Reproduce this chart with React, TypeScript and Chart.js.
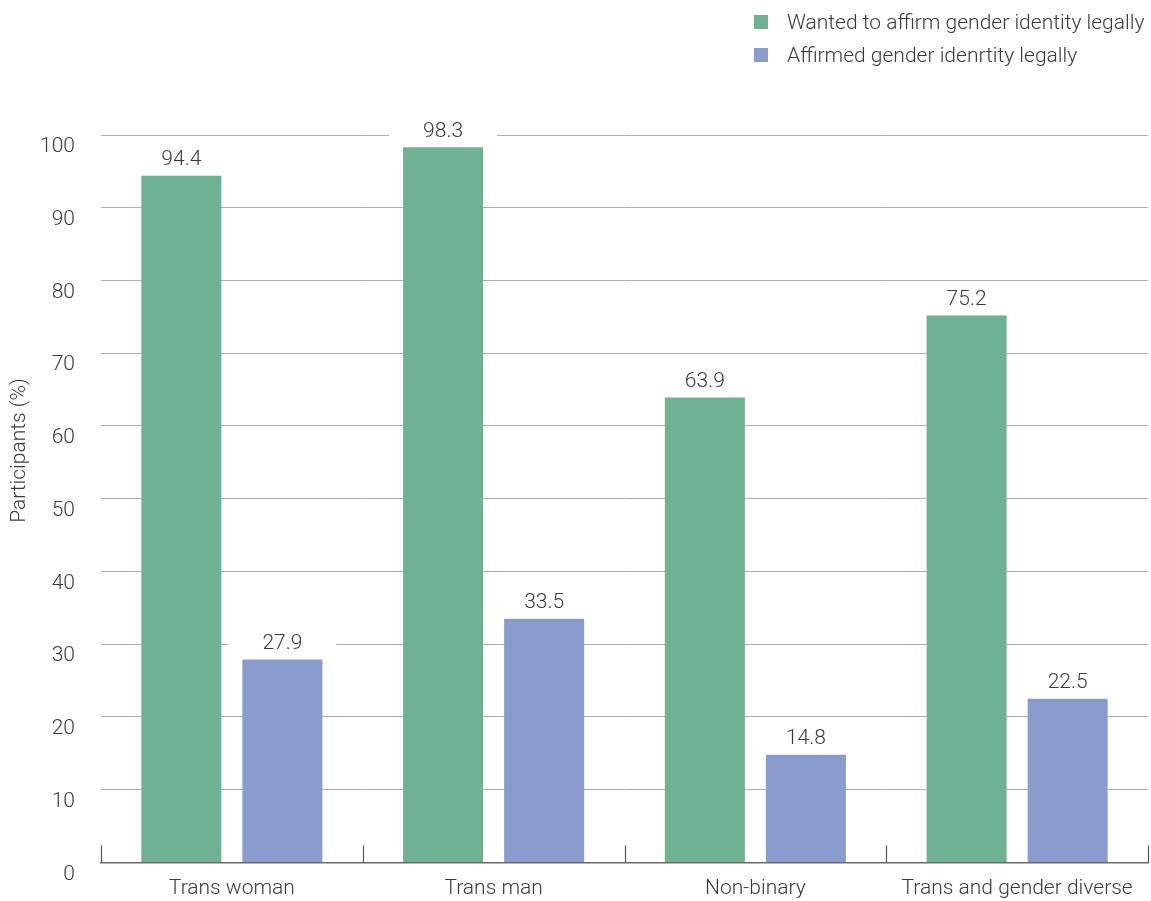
import React, { useEffect, useRef } from "react";
import { Chart, registerables } from "chart.js";

Chart.register(...registerables);

const categories = ["Trans woman", "Trans man", "Non-binary", "Trans and gender diverse"];
const seriesLabels = ["Wanted to affirm gender identity legally", "Affirmed gender idenrtity legally"];
const wantedValues = [94.4, 98.3, 63.9, 75.2];
const affirmedValues = [27.9, 33.5, 14.8, 22.5];
const seriesColors = ["#6fb193", "#8a9bcd"];
const yTitle = "Participants (%)";
const yMin = 0;
const yMax = 100;
const yStep = 10;

const FONT = "Roboto, 'Noto Sans', sans-serif";
const TEXT = "#3a3a3a";
const FS = 21;

const decorPlugin = {
  id: "decor",
  afterDatasetsDraw(chart: any) {
    const ctx = chart.ctx;
    ctx.save();
    ctx.font = `300 ${FS}px ${FONT}`;
    ctx.textAlign = "center";
    ctx.textBaseline = "middle";
    chart.data.datasets.forEach((ds: any, di: number) => {
      const meta = chart.getDatasetMeta(di);
      meta.data.forEach((bar: any, i: number) => {
        const v = ds.data[i];
        const y = bar.y - 16;
        ctx.fillStyle = "#ffffff";
        ctx.fillRect(bar.x - 54, y - 11, 108, 22);
        ctx.fillStyle = TEXT;
        ctx.fillText(String(v), bar.x, y);
      });
    });
    ctx.restore();
  },
  afterDraw(chart: any) {
    const ctx = chart.ctx;
    const xs = chart.scales.x;
    const area = chart.chartArea;
    const n = categories.length;
    ctx.save();
    ctx.strokeStyle = "#555";
    ctx.lineWidth = 1.2;
    for (let i = 0; i <= n; i++) {
      const x = Math.round(xs.left + (i * (xs.right - xs.left)) / n) + 0.5;
      ctx.beginPath();
      ctx.moveTo(x, area.bottom - 17);
      ctx.lineTo(x, area.bottom);
      ctx.stroke();
    }
    // y axis title
    ctx.font = `300 ${FS}px ${FONT}`;
    ctx.fillStyle = TEXT;
    ctx.textAlign = "center";
    ctx.textBaseline = "middle";
    ctx.translate(20, chart.height / 2);
    ctx.rotate(-Math.PI / 2);
    ctx.fillText(yTitle, 0, 0);
    ctx.restore();
  },
};

export default function App() {
  const ref = useRef<HTMLCanvasElement | null>(null);

  useEffect(() => {
    if (!ref.current) return;
    const chart = new Chart(ref.current, {
      type: "bar",
      data: {
        labels: categories,
        datasets: [
          { label: seriesLabels[0], data: wantedValues, backgroundColor: seriesColors[0] },
          { label: seriesLabels[1], data: affirmedValues, backgroundColor: seriesColors[1] },
        ],
      },
      options: {
        animation: false,
        responsive: false,
        maintainAspectRatio: false,
        layout: { padding: { top: 135, right: 3, left: 0, bottom: 0 } },
        plugins: {
          legend: { display: false },
          tooltip: { enabled: false },
        },
        datasets: {
          bar: { categoryPercentage: 0.772, barPercentage: 0.792 },
        },
        scales: {
          x: {
            grid: { display: false, drawTicks: false },
            border: { display: true, color: "#6a6a6a", width: 1.5 },
            ticks: { color: TEXT, font: { family: FONT, size: FS, weight: "300" as any }, padding: 14, maxRotation: 0, autoSkip: false },
            afterFit: (s: any) => { s.height = 38; },
          },
          y: {
            min: yMin,
            max: yMax,
            ticks: {
              stepSize: yStep,
              color: TEXT,
              font: { family: FONT, size: FS, weight: "300" as any },
              padding: 26,
              labelOffset: 12,
            },
            grid: { color: "#b0b0b0", lineWidth: 1, drawTicks: false },
            border: { display: false },
            afterFit: (s: any) => { s.width = 101; },
          },
        },
      },
      plugins: [decorPlugin],
    });
    return () => chart.destroy();
  }, []);

  const legendItem = (i: number, top: number) => (
    <div style={{ position: "absolute", left: 754, top, display: "flex", alignItems: "center", height: 24 }}>
      <div style={{ width: 14, height: 14, background: seriesColors[i] }} />
      <span style={{ marginLeft: 19, fontFamily: FONT, fontWeight: 300, fontSize: FS, color: TEXT, whiteSpace: "nowrap" }}>
        {seriesLabels[i]}
      </span>
    </div>
  );

  return (
    <div style={{ position: "absolute", left: 0, top: 0, width: 1151, height: 901, background: "#fff" }}>
      <canvas ref={ref} width={1151} height={901} style={{ position: "absolute", left: 0, top: 0 }} />
      {legendItem(0, 10)}
      {legendItem(1, 43)}
    </div>
  );
}
